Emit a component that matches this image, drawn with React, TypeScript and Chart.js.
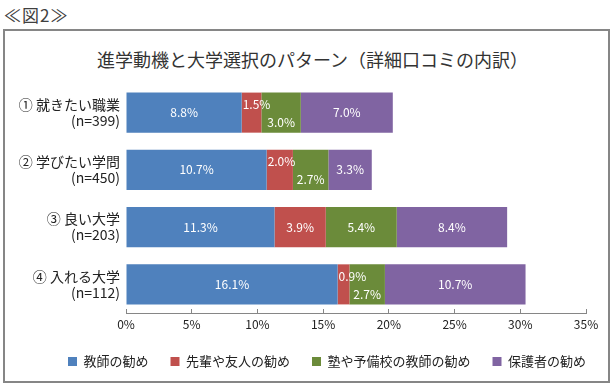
import React, { useEffect, useRef } from "react";
import { Chart, registerables } from "chart.js";

Chart.register(...registerables);

const categories: string[][] = [
  ["① 就きたい職業", "(n=399)"],
  ["② 学びたい学問", "(n=450)"],
  ["③ 良い大学", "(n=203)"],
  ["④ 入れる大学", "(n=112)"],
];
const seriesNames = ["教師の勧め", "先輩や友人の勧め", "塾や予備校の教師の勧め", "保護者の勧め"];
const teacherValues = [8.8, 10.7, 11.3, 16.1];
const seniorFriendValues = [1.5, 2.0, 3.9, 0.9];
const cramSchoolValues = [3.0, 2.7, 5.4, 2.7];
const parentValues = [7.0, 3.3, 8.4, 10.7];
const seriesColors = ["#4F81BD", "#C0504D", "#6B8B3A", "#8064A2"];
const xMin = 0;
const xMax = 35;
const xStep = 5;

const FONT = "'Noto Sans CJK JP', 'Noto Sans', sans-serif";

const valueLabelPlugin = {
  id: "valueLabels",
  afterDatasetsDraw(chart: any) {
    const ctx = chart.ctx;
    ctx.save();
    ctx.font = `12px ${FONT}`;
    ctx.fillStyle = "#ffffff";
    ctx.textAlign = "center";
    ctx.textBaseline = "middle";
    chart.data.datasets.forEach((ds: any, i: number) => {
      const meta = chart.getDatasetMeta(i);
      meta.data.forEach((bar: any, j: number) => {
        const v = ds.data[j];
        const text = v.toFixed(1) + "%";
        const p = bar.getProps(["x", "y", "base"], true);
        const left = Math.min(p.base, p.x);
        const right = Math.max(p.base, p.x);
        let cx = (left + right) / 2;
        let cy = p.y;
        const w = ctx.measureText(text).width;
        const small = v < 3.5;
        if (small && i === 1) {
          cy -= 8;
          cx = Math.max(cx, left + w / 2 + 1);
        } else if (small && i === 2) {
          cy += 10;
        }
        ctx.fillText(text, cx, cy);
      });
    });
    ctx.restore();
  },
};

export default function App() {
  const canvasRef = useRef<HTMLCanvasElement | null>(null);

  useEffect(() => {
    if (!canvasRef.current) return;
    const seriesValues = [teacherValues, seniorFriendValues, cramSchoolValues, parentValues];
    const chart = new Chart(canvasRef.current, {
      type: "bar",
      data: {
        labels: categories,
        datasets: seriesNames.map((name, i) => ({
          label: name,
          data: seriesValues[i],
          backgroundColor: seriesColors[i],
          borderWidth: 0,
          barPercentage: 0.7,
          categoryPercentage: 1.0,
          xAxisID: "x",
          yAxisID: "y",
        })),
      },
      options: {
        indexAxis: "y",
        animation: false,
        responsive: true,
        maintainAspectRatio: false,
        layout: { padding: { left: 0, right: 0, top: 53, bottom: 3 } },
        scales: {
          x: {
            stacked: true,
            min: xMin,
            max: xMax,
            ticks: {
              stepSize: xStep,
              callback: (v: any) => v + "%",
              color: "#222",
              font: { family: FONT, size: 12 },
              padding: 8,
              maxRotation: 0,
            },
            grid: {
              display: true,
              drawOnChartArea: false,
              drawTicks: true,
              tickLength: -4,
              color: "#868686",
            },
            border: { display: true, color: "#868686", width: 1 },
            afterFit: (scale: any) => {
              scale.height = 20;
            },
          },
          y: {
            stacked: true,
            ticks: {
              color: "#222",
              font: { family: FONT, size: 14, lineHeight: 1.15 },
              padding: 6,
              crossAlign: "near",
            },
            grid: { display: false, drawTicks: false },
            border: { display: false },
            afterFit: (scale: any) => {
              scale.width = 121;
            },
          },
          spacer: {
            type: "linear",
            position: "right",
            display: true,
            ticks: { display: false },
            grid: { display: false, drawTicks: false },
            border: { display: false },
            afterFit: (scale: any) => {
              scale.width = 22;
            },
          },
        },
        plugins: {
          title: { display: false },
          tooltip: { enabled: false },
          legend: {
            display: true,
            position: "bottom",
            align: "end",
            labels: {
              boxWidth: 9,
              boxHeight: 9,
              padding: 22,
              color: "#222",
              font: { family: FONT, size: 13 },
            },
          },
        },
      },
      plugins: [valueLabelPlugin],
    });
    return () => chart.destroy();
  }, []);

  return (
    <div
      style={{
        position: "fixed",
        left: 0,
        top: 0,
        width: 615,
        height: 389,
        background: "#fff",
        fontFamily: FONT,
        overflow: "hidden",
      }}
    >
      <div
        style={{
          position: "absolute",
          left: 4,
          top: 4,
          fontSize: 17,
          letterSpacing: 1,
          lineHeight: "22px",
          color: "#404040",
        }}
      >
        ≪図2≫
      </div>
      <div
        style={{
          position: "absolute",
          left: 3,
          top: 29,
          width: 607,
          height: 354,
          border: "2px solid #868686",
          boxSizing: "border-box",
        }}
      >
        <div
          style={{
            position: "absolute",
            left: 6,
            top: 16,
            width: "100%",
            textAlign: "center",
            fontSize: 18,
            lineHeight: "24px",
            color: "#333",
          }}
        >
          進学動機と大学選択のパターン（詳細口コミの内訳）
        </div>
        <div style={{ position: "absolute", left: 0, top: 0, width: 603, height: 350 }}>
          <canvas ref={canvasRef} />
        </div>
      </div>
    </div>
  );
}
